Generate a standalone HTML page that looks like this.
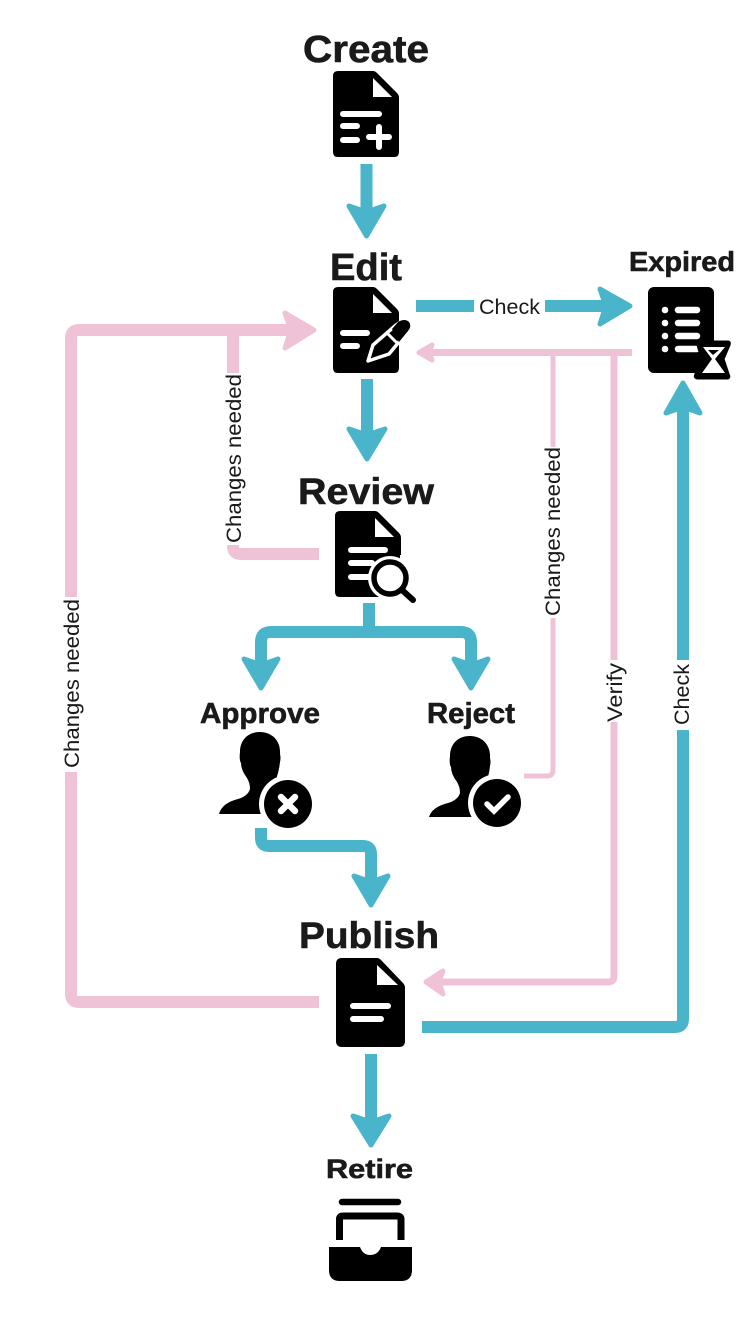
<!DOCTYPE html>
<html><head><meta charset="utf-8"><style>
html,body{margin:0;padding:0;background:#fff;width:754px;height:1325px;overflow:hidden}
svg{display:block}
.t{font-family:"Liberation Sans",sans-serif;font-weight:bold;fill:#1a1a1a;stroke:#1a1a1a;stroke-width:.6}
.l{font-family:"Liberation Sans",sans-serif;fill:#1a1a1a;font-size:21px}
.b,.p,.p2,.p3{fill:none;stroke-linejoin:round}
.b{stroke:#4ab5ca;stroke-width:12}
.p{stroke:#f0c2d8;stroke-width:12}
.p2{stroke:#f0c2d8;stroke-width:7}
.p3{stroke:#f0c2d8;stroke-width:5}
.hb{fill:#4ab5ca;stroke:#4ab5ca;stroke-width:5;stroke-linejoin:round}
.hp{fill:#f0c2d8;stroke:#f0c2d8;stroke-width:5;stroke-linejoin:round}
.w{stroke:#fff;stroke-linecap:round;fill:none}
</style></head><body>
<svg width="754" height="1325" viewBox="0 0 754 1325" xmlns="http://www.w3.org/2000/svg">
<!-- connectors -->
<path class="b" d="M366.500 164V220"/><path class="hb" d="M349 206L366.500 236L384 206L366.500 212Z"/>
<path class="b" d="M367 379V443"/><path class="hb" d="M349 429L367 459L385 429L367 435Z"/>
<path class="b" d="M416 306H474M545 306H614"/><path class="hb" d="M600 289L630 306L600 324L606 306Z"/>
<path class="p2" d="M632 352.500H428"/><path class="hp" d="M432 345L419 352.500L432 360L429 352.500Z"/>
<path class="p3" d="M553 352V447M553 618V770Q553 776 547 776H524"/>
<path class="p2" d="M614 352V660M614 722V976Q614 982 608 982H436"/><path class="hp" d="M443 971L426 982L443 994L439 982Z"/>
<path class="b" d="M422 1027H675Q683 1027 683 1019V730M683 660V398"/><path class="hb" d="M666 413L683 383L700 413L683 407Z"/>
<path class="p" d="M319 1002H79Q71 1002 71 994V772M71 597V338Q71 330 79 330H300"/><path class="hp" d="M285 313L314 330L285 348L291 330Z"/>
<path class="p" d="M319 554H241Q233 554 233 546V545M233 373V336"/>
<path class="b" d="M369 603V632"/>
<path class="b" d="M261 674V642Q261 632 271 632H461Q471 632 471 642V674"/>
<path class="hb" d="M244 659L261 688L278 659L261 665Z"/><path class="hb" d="M454 659L471 688L488 659L471 665Z"/>
<path class="b" d="M261 828V838Q261 846 269 846H363Q371 846 371 854V892"/><path class="hb" d="M354 876L371 905L388 876L371 882Z"/>
<path class="b" d="M371 1054V1132"/><path class="hb" d="M353 1116L371 1145L389 1116L371 1122Z"/>
<!-- titles -->
<text class="t" x="303" y="62" font-size="38" textLength="126" lengthAdjust="spacingAndGlyphs">Create</text>
<text class="t" x="330" y="280" font-size="38" textLength="72" lengthAdjust="spacingAndGlyphs">Edit</text>
<text class="t" x="629" y="271" font-size="28" textLength="106" lengthAdjust="spacingAndGlyphs">Expired</text>
<text class="t" x="298" y="504" font-size="37" textLength="136" lengthAdjust="spacingAndGlyphs">Review</text>
<text class="t" x="200" y="723" font-size="29" textLength="120" lengthAdjust="spacingAndGlyphs">Approve</text>
<text class="t" x="427" y="723" font-size="29" textLength="88" lengthAdjust="spacingAndGlyphs">Reject</text>
<text class="t" x="299" y="948" font-size="37" textLength="140" lengthAdjust="spacingAndGlyphs">Publish</text>
<text class="t" x="326" y="1178" font-size="27" textLength="87" lengthAdjust="spacingAndGlyphs">Retire</text>
<!-- labels -->
<text class="l" x="479" y="314" textLength="61" lengthAdjust="spacingAndGlyphs">Check</text>
<text class="l" transform="translate(241,543) rotate(-90)" textLength="169" lengthAdjust="spacingAndGlyphs">Changes needed</text>
<text class="l" transform="translate(79,768) rotate(-90)" textLength="169" lengthAdjust="spacingAndGlyphs">Changes needed</text>
<text class="l" transform="translate(560,616) rotate(-90)" textLength="169" lengthAdjust="spacingAndGlyphs">Changes needed</text>
<text class="l" transform="translate(622,722) rotate(-90)" textLength="59" lengthAdjust="spacingAndGlyphs">Verify</text>
<text class="l" transform="translate(689,725) rotate(-90)" textLength="61" lengthAdjust="spacingAndGlyphs">Check</text>
<!-- Create icon -->
<path d="M338 71H373Q375 71 377 73L397 93Q399 95 399 98V152Q399 157 394 157H338Q333 157 333 152V76Q333 71 338 71Z"/>
<path d="M373 78L392 97H373Z" fill="#fff"/>
<path class="w" stroke-width="6" d="M343 114H379M343 126H357M343 140H357M369 137H389M379 127V147"/>
<!-- Edit icon -->
<path d="M338 287H373Q375 287 377 289L397 309Q399 311 399 314V368Q399 373 394 373H338Q333 373 333 368V292Q333 287 338 287Z"/>
<path d="M373 294L392 313H373Z" fill="#fff"/>
<path class="w" stroke-width="6" d="M343 333H367M343 346H357"/>
<path d="M368 361L373 345L396 325Q404 319 409 322Q412 326 408 331L389 354Z" stroke="#fff" stroke-width="3.500" stroke-linejoin="round"/>
<path d="M398 322Q405 318 409 322Q412 326 408 331L399 342L392 329Z"/>
<path class="w" stroke-width="3" d="M388 334L396 342"/>
<!-- Expired icon -->
<rect x="648" y="287" width="66" height="86" rx="6"/>
<g fill="#fff"><circle cx="665" cy="310" r="3.300"/><circle cx="665" cy="323" r="3.300"/><circle cx="665" cy="336" r="3.300"/><circle cx="665" cy="349" r="3.300"/></g>
<path class="w" stroke-width="6.500" d="M678 310H697M678 323H697M678 336H697M678 349H697"/>
<path d="M700 342H728Q730 342 729 345L723 359L728 374Q730 378 727 378H698Q694 378 696 374L702 359L698 345Q697 342 700 342Z" stroke="#000" stroke-width="3" stroke-linejoin="round"/>
<path d="M703 347H725L715 359L725 373H702L712 359Z" fill="#fff"/>
<path d="M708 350H719L713 355Z" fill="#000"/>
<!-- Review icon -->
<path d="M340 511H375Q377 511 379 513L399 533Q401 535 401 538V592Q401 597 396 597H340Q335 597 335 592V516Q335 511 340 511Z"/>
<path d="M375 518L394 537H375Z" fill="#fff"/>
<path class="w" stroke-width="6" d="M351 550H385M351 563H372M351 577H368"/>
<circle cx="390" cy="578" r="22" fill="#fff"/>
<rect x="400" y="555" width="20" height="12" fill="#fff"/>
<circle cx="390" cy="578" r="16" fill="#fff" stroke="#000" stroke-width="5.500"/>
<path d="M402 590L413 600" stroke="#000" stroke-width="6" stroke-linecap="round"/>
<!-- Approve icon -->
<path d="M260 732C247 732 240 741 240 752Q239 760 241 763Q241 770 247 778Q250 783 250 789Q248 796 238 799Q222 803 219 814H275V782Q279 772 280 762Q281 758 280 754C281 741 272 732 260 732Z"/>
<circle cx="288" cy="804" r="29" fill="#fff"/><circle cx="288" cy="804" r="24"/>
<path class="w" stroke-width="6.500" d="M281 797L295 811M295 797L281 811"/>
<!-- Reject icon -->
<path d="M470 736C457 736 450 745 450 756Q449 764 451 767Q451 774 457 782Q460 787 460 793Q458 800 448 803Q432 807 429 817H485V786Q489 776 490 766Q491 762 490 758C491 745 482 736 470 736Z"/>
<circle cx="497" cy="803" r="29" fill="#fff"/><circle cx="497" cy="803" r="24"/>
<path class="w" stroke-width="5.500" d="M487 804L494 811L508 797"/>
<!-- Publish icon -->
<path d="M342 958H377Q379 958 381 960L403 983Q405 985 405 988V1041Q405 1047 399 1047H342Q336 1047 336 1041V964Q336 958 342 958Z"/>
<path d="M377 965L398 985H377Z" fill="#fff"/>
<path class="w" stroke-width="6" d="M353 1006H388M353 1019H381"/>
<!-- Retire icon -->
<path d="M342 1202H398" stroke="#000" stroke-width="6.500" stroke-linecap="round"/>
<path d="M339.500 1240V1219Q339.500 1216 343 1216H397Q401 1216 401 1219V1240" fill="none" stroke="#000" stroke-width="7"/>
<path d="M329 1247H360Q363 1255 370 1255Q378 1255 381 1247H412V1270Q412 1281 401 1281H340Q329 1281 329 1270Z"/>
</svg>
</body></html>
